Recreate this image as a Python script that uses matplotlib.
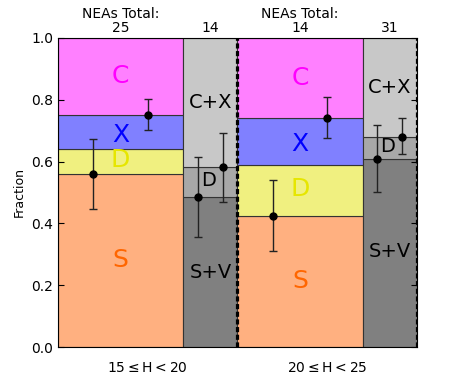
import numpy as np
import matplotlib.pyplot as plt

# H-magnitude bins
bins = ['$15 \\leq \\mathrm{H} < 20$', '$20 \\leq \\mathrm{H} < 25$']
totals_left = [25, 14]
totals_right = [14, 31]

# left bar: stacked fractions S, D, X, C (boundaries)
s_top = [0.56, 0.424]
d_top = [0.641, 0.589]
x_top = [0.751, 0.741]

# right bar: S+V, D, C+X
sv_top = [0.485, 0.608]
dd_top = [0.583, 0.680]

# error points (x offset within group, value, low, high)
err_x = [[0.195, 0.50, 0.78, 0.92], [0.20, 0.50, 0.78, 0.92]]
err_y = [[0.56, 0.751, 0.485, 0.583], [0.424, 0.741, 0.608, 0.680]]
err_lo = [[0.447, 0.703, 0.355, 0.470], [0.312, 0.675, 0.500, 0.625]]
err_hi = [[0.672, 0.802, 0.615, 0.693], [0.540, 0.810, 0.717, 0.740]]

fig = plt.figure(figsize=(4.63, 3.86), dpi=100)
ax = fig.add_axes([0.125, 0.101, 0.775, 0.801])

w1, w2 = 0.7, 0.3
ec = '#333333'
for i in range(2):
    x0 = i
    # left bar (taxonomic classes)
    ax.bar(x0, s_top[i], w1, align='edge', color='#ffb080', edgecolor=ec, lw=0.8)
    ax.bar(x0, d_top[i] - s_top[i], w1, bottom=s_top[i], align='edge', color='#f0f080', edgecolor=ec, lw=0.8)
    ax.bar(x0, x_top[i] - d_top[i], w1, bottom=d_top[i], align='edge', color='#8080ff', edgecolor=ec, lw=0.8)
    ax.bar(x0, 1 - x_top[i], w1, bottom=x_top[i], align='edge', color='#ff80ff', edgecolor=ec, lw=0.8)
    # right bar (grey classes)
    x1 = x0 + w1
    ax.bar(x1, sv_top[i], w2, align='edge', color='#808080', edgecolor=ec, lw=0.8)
    ax.bar(x1, dd_top[i] - sv_top[i], w2, bottom=sv_top[i], align='edge', color='#a8a8a8', edgecolor=ec, lw=0.8)
    ax.bar(x1, 1 - dd_top[i], w2, bottom=dd_top[i], align='edge', color='#c8c8c8', edgecolor=ec, lw=0.8)

    # class labels
    cx = x0 + w1 / 2
    ax.text(cx, (1 + x_top[i]) / 2, 'C', color='magenta', fontsize=18, ha='center', va='center')
    ax.text(cx, (x_top[i] + d_top[i]) / 2 - 0.01, 'X', color='blue', fontsize=18, ha='center', va='center')
    ax.text(cx, (d_top[i] + s_top[i]) / 2 + 0.005, 'D', color='#e6e600', fontsize=18, ha='center', va='center')
    ax.text(cx, s_top[i] / 2, 'S', color='#ff6600', fontsize=18, ha='center', va='center')
    gx = x1 + w2 / 2
    cx_y = [0.79, 0.84][i]
    sv_y = [0.24, 0.31][i]
    ax.text(gx, cx_y, 'C+X', color='black', fontsize=14, ha='center', va='center')
    ax.text(gx - 0.01, (dd_top[i] + sv_top[i]) / 2 + 0.003, 'D', color='black', fontsize=14, ha='center', va='center')
    ax.text(gx, sv_y, 'S+V', color='black', fontsize=14, ha='center', va='center')

    # totals above
    ax.text(cx, 1.01, 'NEAs Total:\n%d' % totals_left[i], ha='center', va='bottom',
            fontsize=10, transform=ax.get_xaxis_transform(), linespacing=1.0)
    ax.text(gx, 1.01, '%d' % totals_right[i], ha='center', va='bottom',
            fontsize=10, transform=ax.get_xaxis_transform())

    # error bars
    ex = np.array(err_x[i]) + x0
    ey = np.array(err_y[i])
    yerr = [ey - np.array(err_lo[i]), np.array(err_hi[i]) - ey]
    ax.errorbar(ex, ey, yerr=yerr, fmt='o', color='black', ecolor='#222222',
                ms=5, capsize=3, elinewidth=1, zorder=5)

# dashed separators
for xv in [1, 2]:
    ax.axvline(xv, color='black', ls='--', lw=2.3, dashes=(1.6, 0.8), zorder=2.4)

ax.set_xlim(0, 2)
ax.set_ylim(0, 1)
for sp in ax.spines.values():
    sp.set_linewidth(0.8)
ax.set_xticks([0.5, 1.5])
ax.set_xticklabels(bins, fontsize=10)
ax.tick_params(axis='x', length=0, pad=10)
ax.set_yticks([0, 0.2, 0.4, 0.6, 0.8, 1.0])
ax.set_yticklabels(['0.0', '0.2', '0.4', '0.6', '0.8', '1.0'], fontsize=10)
ax.tick_params(axis='y', direction='in', right=True, length=4)
ax.set_ylabel('Fraction', fontsize=9)

plt.savefig('out.png', dpi=100)
